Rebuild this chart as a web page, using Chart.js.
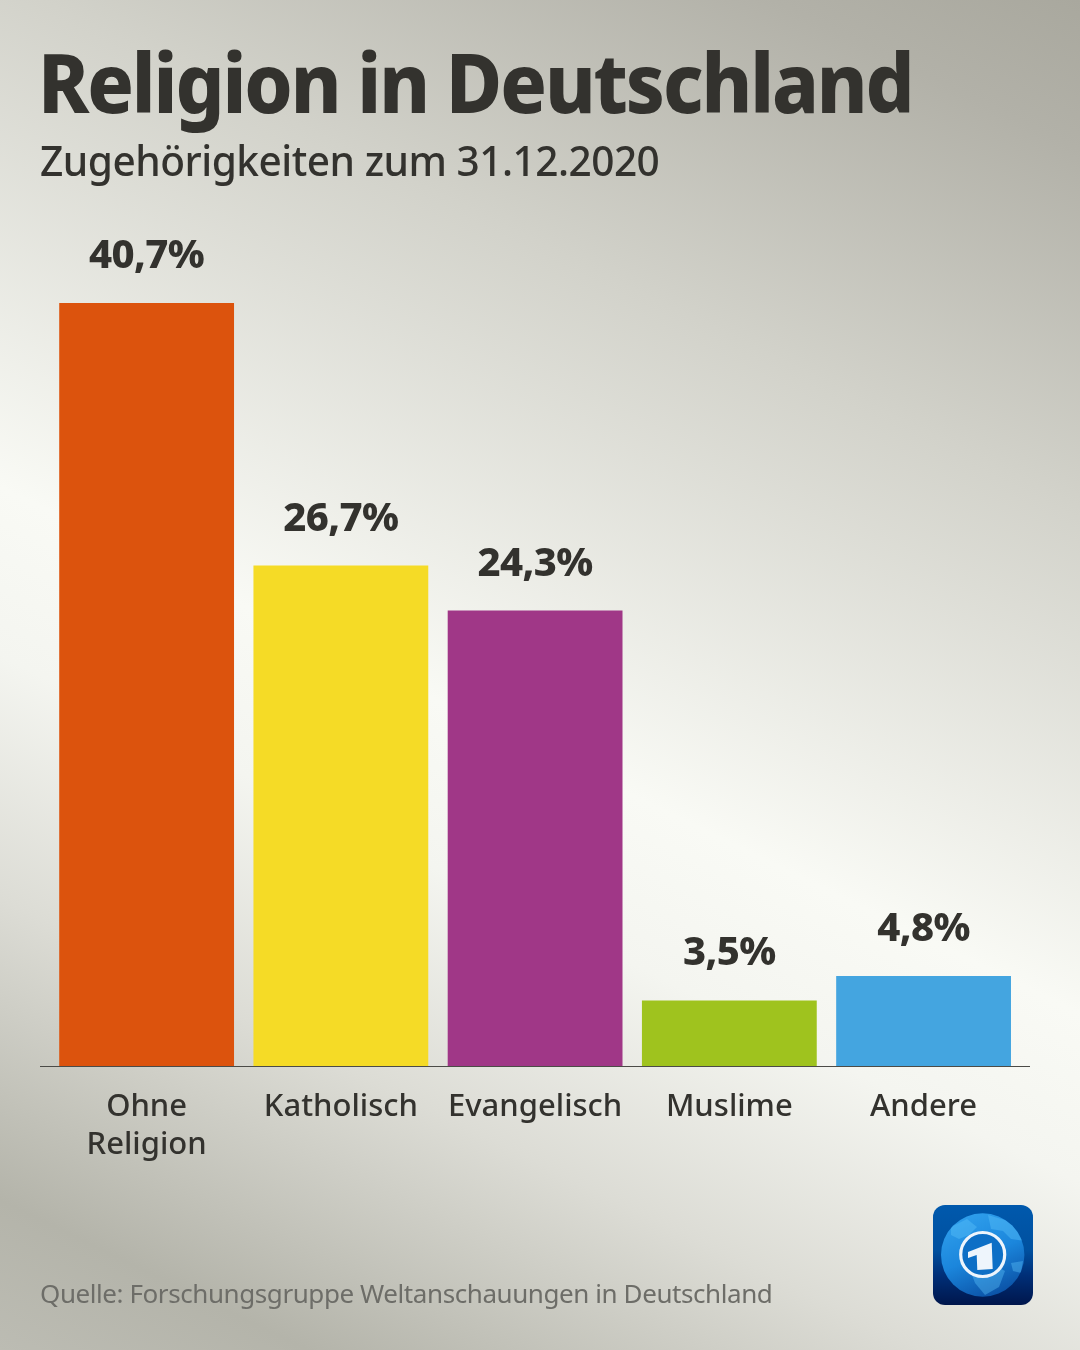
<!DOCTYPE html>
<html lang="de">
<head>
  <meta charset="UTF-8">
  <title>Religion in Deutschland</title>
  <script src="https://cdn.jsdelivr.net/npm/chart.js"></script>
  <style>
    html, body { margin: 0; padding: 0; }
    body {
      position: relative; width: 1080px; height: 1350px; overflow: hidden;
      font-family: "Noto Sans", sans-serif; color: #33322e;
      background: linear-gradient(206deg, #a9a89e 0%, #b2b1a8 8%, #d2d2ca 27%, #f9faf5 54%, #f4f5f0 63%, #dcdcd5 76%, #b4b4aa 92%, #bcbcb3 100%);
    }
    canvas { position: absolute; left: 0; top: 0; }
    .txt { position: absolute; left: 40px; white-space: nowrap; transform-origin: left top; }
    #title { left: 38px; top: 26px; font-size: 82px; font-weight: 800; line-height: 110px; letter-spacing: -2.2px; transform: scaleX(0.939); }
    #subtitle { top: 132px; font-size: 41px; line-height: 56px; letter-spacing: -0.5px; font-weight: 500; transform: scaleX(0.99); }
    #source { top: 1274px; font-size: 26px; line-height: 38px; color: #6d6d68; letter-spacing: -0.42px; }
    #logo { position: absolute; left: 933px; top: 1205px; }
  </style>
</head>
<body>
  <canvas id="religionChart" width="1080" height="1350"></canvas>
  <div class="txt" id="title">Religion in Deutschland</div>
  <div class="txt" id="subtitle">Zugehörigkeiten zum 31.12.2020</div>
  <div class="txt" id="source">Quelle: Forschungsgruppe Weltanschauungen in Deutschland</div>
  <svg id="logo" width="100" height="100" viewBox="0 0 100 100">
    <defs>
      <linearGradient id="tile" x1="0" y1="0" x2="0" y2="1">
        <stop offset="0" stop-color="#0059ad"/><stop offset="0.45" stop-color="#00509f"/><stop offset="0.7" stop-color="#002f78"/><stop offset="1" stop-color="#00164c"/>
      </linearGradient>
      <linearGradient id="globe" x1="0.3" y1="0" x2="0.7" y2="1">
        <stop offset="0" stop-color="#2f9fec"/><stop offset="0.5" stop-color="#1b86dc"/><stop offset="1" stop-color="#0a4fa3"/>
      </linearGradient>
      <clipPath id="ball"><circle cx="49.7" cy="50" r="41.7"/></clipPath>
    </defs>
    <rect width="100" height="100" rx="12" fill="url(#tile)"/>
    <circle cx="49.7" cy="50" r="41.7" fill="url(#globe)"/>
    <g clip-path="url(#ball)" fill="#5cc2fb" opacity="0.4">
      <path d="M18 22 L34 14 L44 22 L36 30 L26 34 L18 30 Z"/>
      <path d="M55 10 L82 18 L92 36 L78 34 L70 26 L58 24 Z"/>
      <path d="M36 62 L58 58 L72 66 L66 82 L52 90 L42 78 Z"/>
      <path d="M78 58 L90 56 L88 68 L80 66 Z"/>
    </g>
    <circle cx="49.7" cy="49.5" r="22" fill="#0d6fc6" stroke="#eef5fc" stroke-width="3.2"/>
    <path d="M35 47 L58.7 37.7 L59.7 64 L44.3 65 L43.7 50 L35 53 Z" fill="#eef5fc"/>
  </svg>
  <script>
    const categories = [['Ohne', 'Religion'], 'Katholisch', 'Evangelisch', 'Muslime', 'Andere'];
    const shares = [40.7, 26.7, 24.3, 3.5, 4.8];
    const shareLabels = ['40,7%', '26,7%', '24,3%', '3,5%', '4,8%'];
    const barColors = ['#dc530d', '#f5db26', '#a03787', '#9fc31e', '#44a5e0'];

    // Values above the bars and the baseline, which runs a bit wider than the plot
    const barExtras = {
      id: 'barExtras',
      afterDatasetsDraw(chart) {
        const ctx = chart.ctx;
        ctx.save();
        ctx.fillStyle = '#4b4b47';
        ctx.fillRect(40, chart.chartArea.bottom, 990, 1);
        ctx.font = '800 40px "Noto Sans"';
        ctx.letterSpacing = '-0.6px';
        ctx.fillStyle = '#33322e';
        ctx.textAlign = 'center';
        chart.getDatasetMeta(0).data.forEach((bar, i) => {
          ctx.fillText(shareLabels[i], bar.x, bar.y - 35);
        });
        ctx.restore();
      }
    };

    new Chart(document.getElementById('religionChart'), {
      type: 'bar',
      data: {
        labels: categories,
        datasets: [{
          data: shares,
          backgroundColor: barColors,
          categoryPercentage: 1,
          barPercentage: 0.9
        }]
      },
      options: {
        responsive: false,
        animation: false,
        layout: { padding: { left: 49.5, right: 59.3, top: 200, bottom: 0 } },
        plugins: { legend: { display: false }, tooltip: { enabled: false } },
        scales: {
          x: {
            grid: { display: false },
            border: { display: false },
            afterFit(scale) { scale.height = 284; },
            ticks: {
              color: '#33322e',
              padding: 14,
              maxRotation: 0,
              autoSkip: false,
              font: { family: '"Noto Sans"', size: 31, weight: 500, lineHeight: 1.226 }
            }
          },
          y: { display: false, min: 0, max: 46.2 }
        }
      },
      plugins: [barExtras]
    });
  </script>
</body>
</html>
